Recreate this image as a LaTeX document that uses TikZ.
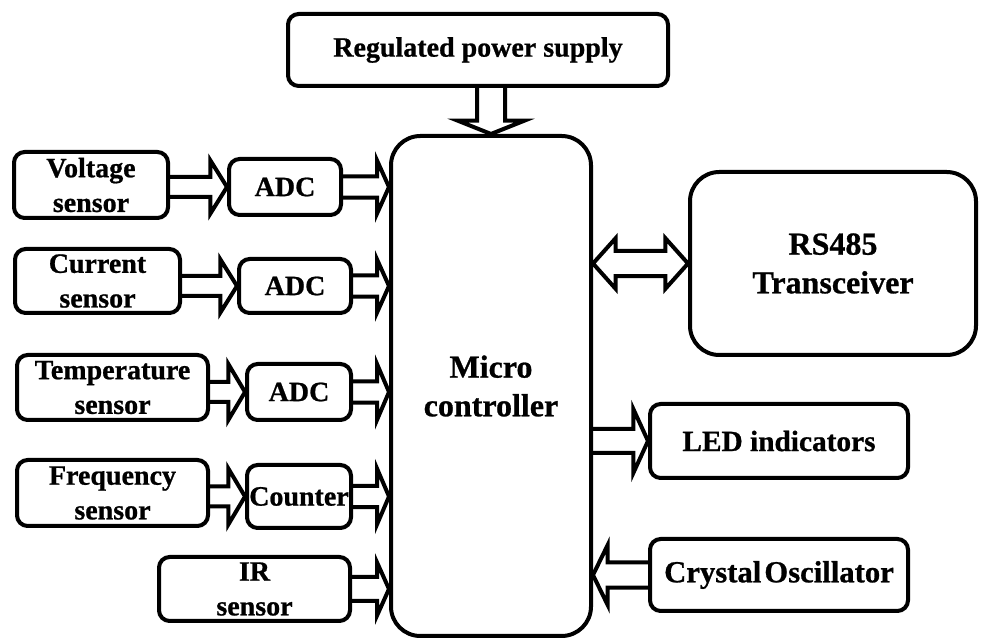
\documentclass[tikz,border=0pt]{standalone}
\usepackage{fontspec}
\setmainfont{Liberation Serif}[BoldFont={Liberation Serif Bold}, BoldFeatures={FakeBold=0.8}]
\usetikzlibrary{calc}
\tikzset{
  box/.style={draw, line width=3pt, rounded corners=8pt, align=center, inner sep=0pt,
    font=\fontsize{21}{26}\selectfont\bfseries},
  bigbox/.style={box, rounded corners=22pt, font=\fontsize{24}{29}\selectfont\bfseries},
  blk/.style={draw, line width=3pt, line join=miter},
}
% horizontal block arrow: start, tip, y-reference, shaft half, head half, head length
\newcommand\harr[6]{\draw[blk] let \p1=(#1), \p2=(#2), \p3=(#3) in
  (\x1,{\y3+#4}) -- ({\x2-(#6)},{\y3+#4}) -- ({\x2-(#6)},{\y3+#5}) -- (\x2,\y3)
  -- ({\x2-(#6)},{\y3-#5}) -- ({\x2-(#6)},{\y3-#4}) -- (\x1,{\y3-#4});}
% double-headed horizontal block arrow
\newcommand\darr[6]{\draw[blk] let \p1=(#1), \p2=(#2), \p3=(#3) in
  (\x1,\y3) -- ({\x1+#6},{\y3+#5}) -- ({\x1+#6},{\y3+#4}) -- ({\x2-#6},{\y3+#4})
  -- ({\x2-#6},{\y3+#5}) -- (\x2,\y3) -- ({\x2-#6},{\y3-#5}) -- ({\x2-#6},{\y3-#4})
  -- ({\x1+#6},{\y3-#4}) -- ({\x1+#6},{\y3-#5}) -- cycle;}
% vertical (downward) block arrow: start, tip, x-reference, shaft half, head half, head length
\newcommand\varr[6]{\draw[blk] let \p1=(#1), \p2=(#2), \p3=(#3) in
  ({\x3+#4},\y1) -- ({\x3+#4},{\y2+#6}) -- ({\x3+#5},{\y2+#6}) -- (\x3,\y2)
  -- ({\x3-#5},{\y2+#6}) -- ({\x3-#4},{\y2+#6}) -- ({\x3-#4},\y1);}
\begin{document}
\begin{tikzpicture}[x=0.75pt, y=-0.75pt]
\useasboundingbox (0,0) rectangle (983,641);
\node[box, minimum width=285pt, minimum height=54pt] (pwr) at (478,50) {Regulated power supply};
\node[bigbox, minimum width=150pt, minimum height=375pt] (mcu) at (491,386) {Micro\\controller};
\node[box, minimum width=115.5pt, minimum height=49.5pt] (vs) at (91,185) {Voltage\\sensor};
\node[box, minimum width=84pt, minimum height=42pt] (adc1) at (285,187) {ADC};
\node[box, minimum width=123.75pt, minimum height=48pt] (cs) at (97.5,281) {Current\\sensor};
\node[box, minimum width=84pt, minimum height=40.5pt] (adc2) at (295,286) {ADC};
\node[box, minimum width=143.25pt, minimum height=48.75pt] (ts) at (112.5,387.5) {Temperature\\sensor};
\node[box, minimum width=78pt, minimum height=42pt] (adc3) at (299,392) {ADC};
\node[box, minimum width=143.25pt, minimum height=49.5pt] (fs) at (112.5,493) {Frequency\\sensor};
\node[box, minimum width=78pt, minimum height=47.25pt] (cnt) at (299,496.5) {Counter};
\node[box, minimum width=143.25pt, minimum height=48pt] (ir) at (254.5,589) {IR\\sensor};
\node[bigbox, minimum width=214.5pt, minimum height=137.25pt] (rs) at (833,263.5) {RS485\\Transceiver};
\node[box, minimum width=193.5pt, minimum height=55.5pt, font=\fontsize{22}{26}\selectfont\bfseries] (led) at (779,441) {LED indicators};
\node[box, minimum width=193.5pt, minimum height=54pt, font=\fontsize{23}{26}\selectfont\bfseries] (xo) at (779,575) {Crystal\hspace{-0.15em} Oscillator};
% arrows
\varr{pwr.south}{mcu.north}{mcu.north}{10.5pt}{25pt}{10pt}
\harr{vs.east}{adc1.west}{adc1.center}{7.5pt}{20pt}{12.5pt}
\harr{cs.east}{adc2.west}{adc2.center}{7.5pt}{20pt}{12.5pt}
\harr{ts.east}{adc3.west}{adc3.center}{7.5pt}{21pt}{12.5pt}
\harr{fs.east}{cnt.west}{cnt.center}{7.5pt}{21pt}{12.5pt}
\harr{adc1.east}{mcu.west}{adc1.center}{8pt}{20pt}{9pt}
\harr{adc2.east}{mcu.west}{adc2.center}{8pt}{20pt}{9pt}
\harr{adc3.east}{mcu.west}{adc3.center}{8pt}{21pt}{9pt}
\harr{cnt.east}{mcu.west}{cnt.center}{8pt}{21pt}{9pt}
\harr{ir.east}{mcu.west}{ir.center}{9pt}{20pt}{9pt}
\darr{mcu.east}{rs.west}{rs.center}{9.5pt}{19pt}{17pt}
\harr{mcu.east}{led.west}{led.center}{9pt}{24pt}{11pt}
\harr{xo.west}{mcu.east}{xo.center}{9.5pt}{22.5pt}{-11pt}
\end{tikzpicture}
\end{document}
